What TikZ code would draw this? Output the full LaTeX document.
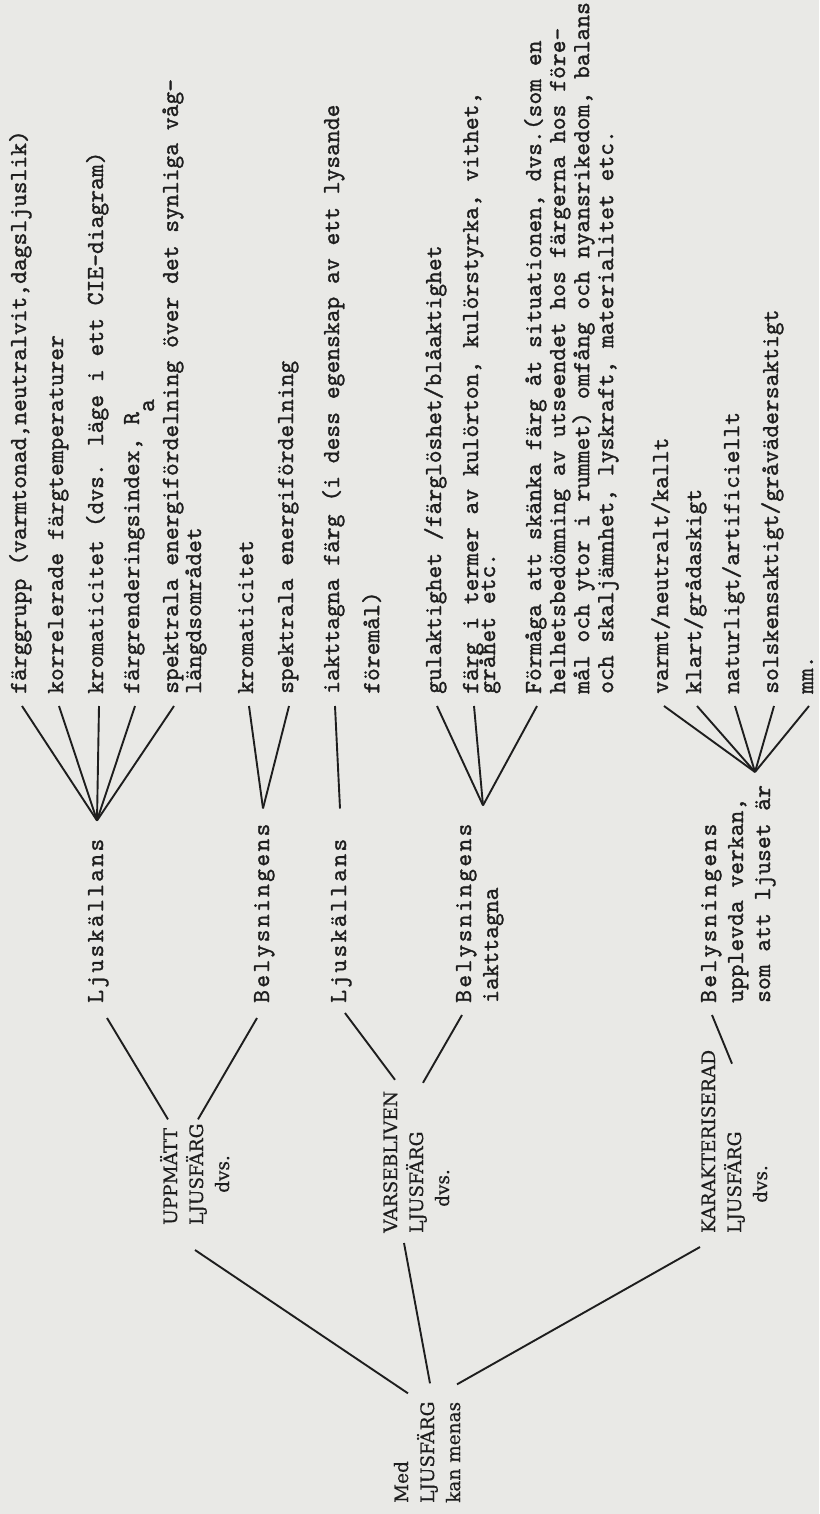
\documentclass[tikz,border=0pt]{standalone}
\usepackage{fontspec}
\newfontfamily\typew{lmmono10-regular}[Extension=.otf,FakeBold=1.2]
\newfontfamily\hdfont{DejaVu Serif}[FakeBold=0.6]
\definecolor{paper}{RGB}{233,233,230}
\definecolor{ink}{RGB}{30,30,30}
\newcommand\spaced[1]{{\addfontfeatures{LetterSpace=9.5}#1}}
\newcommand\stack[1]{\begin{tabular}[t]{@{}l@{}}#1\end{tabular}}
\tikzset{
  tw/.style={rotate=90,anchor=base west,inner sep=0pt,text=ink,
    font=\typew\fontsize{24.4}{24}\selectfont},
  rm/.style={tw,font=\hdfont\fontsize{18.5}{26}\selectfont},
  link/.style={draw=ink,line width=1.9pt},
}
\begin{document}
\begin{tikzpicture}[x=1pt,y=-1pt]
\fill[paper] (0,0) rectangle (819,1514);
\useasboundingbox (0,0) rectangle (819,1514);
% main branches
\node[rm] (root) at (408,1503) {\stack{Med\\LJUSFÄRG\\kan menas}};
\node[rm] (upp) at (177,1225) {\stack{UPPMÄTT\\LJUSFÄRG\\\hspace*{32pt}dvs.}};
\node[rm] (var) at (397,1233) {\stack{VARSEBLIVEN\\LJUSFÄRG\\\hspace*{26pt}dvs.}};
\node[rm] (kar) at (715,1233) {\stack{KARAKTERISERAD\\LJUSFÄRG\\\hspace*{30pt}dvs.}};
% second level
\node[tw] (ljA) at (103,1003) {\spaced{Ljuskällans}};
\node[tw] (belA) at (269,1003) {\spaced{Belysningens}};
\node[tw] (ljB) at (346,1003) {\spaced{Ljuskällans}};
\node[tw] (belB) at (471,1003) {\stack{\spaced{Belysningens}\\[3pt]iakttagna}};
\node[tw] (belC) at (716,1003) {\stack{\spaced{Belysningens}\\[3pt]upplevda verkan,\\[3pt]som att ljuset är}};
% leaves
\node[tw] (a1) at (26,694) {färggrupp (varmtonad,neutralvit,dagsljuslik)};
\node[tw] (a2) at (63,694) {korrelerade färgtemperaturer};
\node[tw] (a3) at (103,694) {kromaticitet (dvs. läge i ett CIE-diagram)};
\node[tw] (a4) at (139,694) {färgrenderingsindex, R\raisebox{-15pt}{a}};
\node[tw] (a5) at (178,694) {\stack{spektrala energifördelning över det synliga våg-\\[-1pt]längdsområdet}};
\node[tw] (b1) at (253,694) {kromaticitet};
\node[tw] (b2) at (293,694) {spektrala energifördelning};
\node[tw] (c1) at (339,694) {\stack{iakttagna färg (i dess egenskap av ett lysande\\[16pt]föremål)}};
\node[tw] (d1) at (441,694) {gulaktighet /färglöshet/blåaktighet};
\node[tw] (d2) at (478,694) {\stack{färg i termer av kulörton, kulörstyrka, vithet,\\[-7pt]gråhet etc.}};
\node[tw] (d3) at (541,694) {\stack{Förmåga att skänka färg åt situationen, dvs.(som en\\helhetsbedömning av utseendet hos färgerna hos före-\\mål och ytor i rummet) omfång och nyansrikedom, balans\\och skaljämnhet, lyskraft, materialitet etc.}};
\node[tw] (e1) at (668,694) {varmt/neutralt/kallt};
\node[tw] (e2) at (701,694) {klart/grådaskigt};
\node[tw] (e3) at (739,694) {naturligt/artificiellt};
\node[tw] (e4) at (778,694) {solskensaktigt/gråvädersaktigt};
\node[tw] (e5) at (813,694) {mm.};
% tree links
\draw[link] ([yshift=8pt]root.base east) -- ([xshift=18pt,yshift=-25pt]upp.base west);
\draw[link] ([xshift=22pt,yshift=18pt]root.base east) -- ([xshift=7pt,yshift=-10pt]var.base west);
\draw[link] ([xshift=49pt,yshift=17pt]root.base east) -- ([xshift=-15pt,yshift=-14pt]kar.base west);
\draw[link] ([xshift=4pt,yshift=-15pt]ljA.base west) -- ([xshift=-9pt,yshift=4pt]upp.base east);
\draw[link] ([xshift=-12pt,yshift=-15pt]belA.base west) -- ([xshift=21pt,yshift=4pt]upp.base east);
\draw[link] ([xshift=-1pt,yshift=-10pt]ljB.base west) -- ([xshift=-2pt,yshift=11pt]var.base east);
\draw[link] ([xshift=26pt,yshift=8pt]var.base east) -- ([xshift=-9pt,yshift=-12pt]belB.base west);
\draw[link] ([xshift=17pt,yshift=-14pt]kar.base east) -- ([xshift=-4pt,yshift=-12pt]belC.base west);
% fans
\coordinate (hubA) at ([xshift=-6pt,yshift=18pt]ljA.base east);
\coordinate (hubB) at ([xshift=-6pt,yshift=15pt]belA.base east);
\coordinate (hubC) at ([xshift=-6pt,yshift=30pt]ljB.base east);
\coordinate (hubD) at ([xshift=12pt,yshift=18pt]belB.base east);
\coordinate (hubE) at ([xshift=39pt,yshift=231pt]belC.base west);
\foreach \l in {a1,a2,a3,a4,a5}
  \draw[link] (hubA) -- ([xshift=-4pt,yshift=-12pt]\l.base west);
\foreach \l in {b1,b2}
  \draw[link] (hubB) -- ([xshift=-4pt,yshift=-12pt]\l.base west);
\draw[link] (hubC) -- ([xshift=-4pt,yshift=-12pt]c1.base west);
\foreach \l in {d1,d2,d3}
  \draw[link] (hubD) -- ([xshift=-4pt,yshift=-12pt]\l.base west);
\foreach \l in {e1,e2,e3,e4,e5}
  \draw[link] (hubE) -- ([xshift=-4pt,yshift=-12pt]\l.base west);
\end{tikzpicture}
\end{document}
